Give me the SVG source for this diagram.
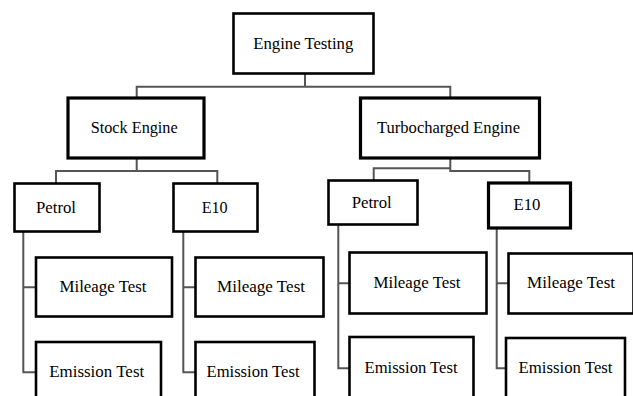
<svg xmlns="http://www.w3.org/2000/svg" width="633" height="396" viewBox="0 0 633 396">
<style>
.box{fill:#fff;stroke:#000;stroke-width:2.6}
.thick{stroke-width:3.2}
.t{font-family:'Liberation Serif','DejaVu Serif',serif;font-size:16px;fill:#000;text-anchor:middle}
.c{fill:none;stroke:#555;stroke-width:2}
</style>
<rect width="633" height="396" fill="#fff"/>
<g id="connectors">
<path class="c" d="M305 73V86.7M136.7 98V86.7H450.3V98"/>
<path class="c" d="M136.7 158V171M56 183V171H217.3V183"/>
<path class="c" d="M373.7 180V168.3H450.3M450.3 158V171H529.3V183"/>
<path class="c" d="M23.3 232V372.3H36M23.3 287.3H36"/>
<path class="c" d="M183.3 232V372.3H195M183.3 287.3H195"/>
<path class="c" d="M338.3 224V368.3H349M338.3 283.3H349"/>
<path class="c" d="M496.7 228V368.3H506M496.7 283.3H508"/>
</g>
<g id="n-engine-testing"><rect class="box" x="233.5" y="13.5" width="140" height="60"/><text class="t" x="303.3" y="49" textLength="100" lengthAdjust="spacingAndGlyphs">Engine Testing</text></g>
<g id="n-stock"><rect class="box thick" x="68" y="98" width="136" height="60"/><text class="t" x="134.2" y="133" textLength="87" lengthAdjust="spacingAndGlyphs">Stock Engine</text></g>
<g id="n-turbo"><rect class="box thick" x="360.5" y="98" width="179" height="60"/><text class="t" x="448.5" y="133" textLength="143" lengthAdjust="spacingAndGlyphs">Turbocharged Engine</text></g>
<g id="n-petrol-1"><rect class="box" x="14.5" y="183.5" width="85" height="48"/><text class="t" x="56" y="213" textLength="40" lengthAdjust="spacingAndGlyphs">Petrol</text></g>
<g id="n-e10-1"><rect class="box" x="173.5" y="183.5" width="84" height="48"/><text class="t" x="214.7" y="213" textLength="26" lengthAdjust="spacingAndGlyphs">E10</text></g>
<g id="n-petrol-2"><rect class="box" x="328.5" y="180.5" width="89" height="44"/><text class="t" x="371.7" y="207.7" textLength="40" lengthAdjust="spacingAndGlyphs">Petrol</text></g>
<g id="n-e10-2"><rect class="box thick" x="488.5" y="183" width="82" height="45"/><text class="t" x="527" y="210" textLength="27" lengthAdjust="spacingAndGlyphs">E10</text></g>
<g id="n-mileage-1"><rect class="box" x="36" y="257.5" width="136" height="59"/><text class="t" x="103" y="291.7" textLength="87" lengthAdjust="spacingAndGlyphs">Mileage Test</text></g>
<g id="n-emission-1"><rect class="box" x="36" y="342" width="125" height="70"/><text class="t" x="96.7" y="376.7" textLength="95" lengthAdjust="spacingAndGlyphs">Emission Test</text></g>
<g id="n-mileage-2"><rect class="box" x="195.5" y="257.5" width="128" height="59"/><text class="t" x="261" y="291.7" textLength="88" lengthAdjust="spacingAndGlyphs">Mileage Test</text></g>
<g id="n-emission-2"><rect class="box" x="195.5" y="342" width="119" height="70"/><text class="t" x="253" y="376.7" textLength="93" lengthAdjust="spacingAndGlyphs">Emission Test</text></g>
<g id="n-mileage-3"><rect class="box" x="349.5" y="252.5" width="137" height="61"/><text class="t" x="417" y="288.3" textLength="87" lengthAdjust="spacingAndGlyphs">Mileage Test</text></g>
<g id="n-emission-3"><rect class="box" x="349.5" y="337" width="124" height="70"/><text class="t" x="411" y="372.7" textLength="93" lengthAdjust="spacingAndGlyphs">Emission Test</text></g>
<g id="n-mileage-4"><rect class="box" x="508.5" y="253.5" width="125" height="60"/><text class="t" x="571" y="288.3" textLength="88" lengthAdjust="spacingAndGlyphs">Mileage Test</text></g>
<g id="n-emission-4"><rect class="box" x="506" y="338" width="119" height="70"/><text class="t" x="565.5" y="372.7" textLength="94" lengthAdjust="spacingAndGlyphs">Emission Test</text></g>
</svg>
